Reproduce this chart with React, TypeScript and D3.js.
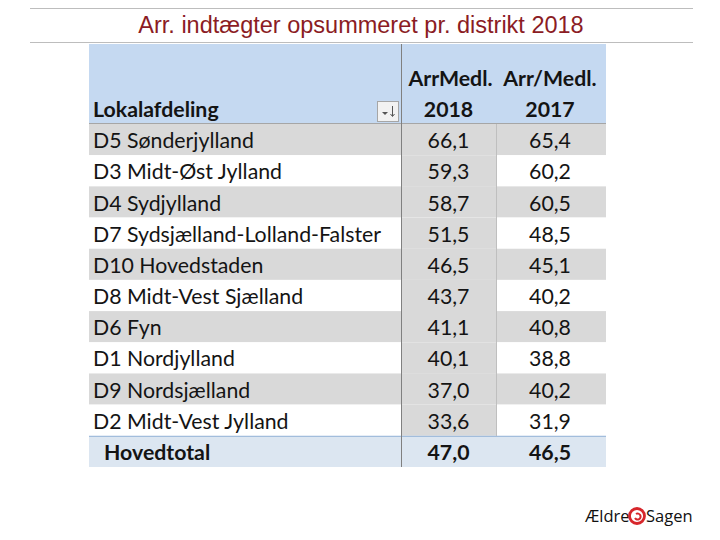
import React from "react";
import * as d3 from "d3";

const title = "Arr. indtægter opsummeret pr. distrikt 2018";
const districts = [
  "D5 Sønderjylland",
  "D3 Midt-Øst Jylland",
  "D4 Sydjylland",
  "D7 Sydsjælland-Lolland-Falster",
  "D10 Hovedstaden",
  "D8 Midt-Vest Sjælland",
  "D6 Fyn",
  "D1 Nordjylland",
  "D9 Nordsjælland",
  "D2 Midt-Vest Jylland",
];
const values2018 = [66.1, 59.3, 58.7, 51.5, 46.5, 43.7, 41.1, 40.1, 37.0, 33.6];
const values2017 = [65.4, 60.2, 60.5, 48.5, 45.1, 40.2, 40.8, 38.8, 40.2, 31.9];
const totalLabel = "Hovedtotal";
const total2018 = 47.0;
const total2017 = 46.5;
const rowHeader = "Lokalafdeling";
const colHeaders1 = ["ArrMedl.", "Arr/Medl."];
const colHeaders2 = ["2018", "2017"];

const fmt = (v: number) => d3.format(".1f")(v).replace(".", ",");

export default function App() {
  const W = 720, H = 540;
  const left = 89, right = 606, c1 = 401, c2 = 496;
  const headTop = 44, headBottom = 124;
  const rowKeys = [...districts, totalLabel];
  const y = d3.scaleBand<string>().domain(rowKeys).range([headBottom, 467]).padding(0);
  const bh = y.bandwidth();
  const font = "Lato, 'Open Sans', sans-serif";
  const fs = 21.3;
  const grey = "#D9D9D9";
  const x2018 = (c1 + c2) / 2;
  const x2017 = (c2 + right) / 2 - 1;
  const ink = "#141414";

  return (
    <svg width={W} height={H} style={{ position: "absolute", left: 0, top: 0, background: "#fff" }}>
      <rect x={0} y={0} width={W} height={H} fill="#fff" />
      <line x1={30} x2={693} y1={8.5} y2={8.5} stroke="#BDBDBD" strokeWidth={1} />
      <line x1={30} x2={693} y1={42.5} y2={42.5} stroke="#BDBDBD" strokeWidth={1} />
      <text x={361} y={33} textAnchor="middle" fill="#8B1C24" fontFamily="'Liberation Sans', Arial, sans-serif" fontSize={23.5}>
        {title}
      </text>

      {/* header */}
      <rect x={left} y={headTop} width={right - left} height={headBottom - headTop} fill="#C5D9F1" />
      <text x={93} y={117} fontFamily={font} fontWeight={700} fontSize={fs} fill={ink}>{rowHeader}</text>
      <g>
        <rect x={377.5} y={101.5} width={21} height={20} fill="#F2F2F2" stroke="#A6A6A6" />
        <path d="M382,112 h6 l-3,3 z" fill="#555" />
        <line x1={392.5} x2={392.5} y1={106} y2={116} stroke="#555" />
        <path d="M390.5,114 l2,2.5 l2,-2.5" fill="none" stroke="#555" />
      </g>
      <text x={x2018 + 2} y={86} textAnchor="middle" fontFamily={font} fontWeight={700} fontSize={fs} fill={ink}>{colHeaders1[0]}</text>
      <text x={x2017} y={86} textAnchor="middle" fontFamily={font} fontWeight={700} fontSize={fs} fill={ink}>{colHeaders1[1]}</text>
      <text x={x2018} y={117} textAnchor="middle" fontFamily={font} fontWeight={700} fontSize={fs} fill={ink}>{colHeaders2[0]}</text>
      <text x={x2017} y={117} textAnchor="middle" fontFamily={font} fontWeight={700} fontSize={fs} fill={ink}>{colHeaders2[1]}</text>

      {/* rows */}
      {districts.map((d, i) => {
        const ty = y(d)!;
        const shaded = i % 2 === 0;
        return (
          <g key={d}>
            <rect x={left} y={ty} width={right - left} height={bh} fill={shaded ? grey : "#fff"} />
            <rect x={c1} y={ty} width={c2 - c1} height={bh} fill={grey} />
            <text x={93} y={ty + bh - 7} fontFamily={font} fontSize={fs} fill={ink}>{d}</text>
            <text x={x2018} y={ty + bh - 7} textAnchor="middle" fontFamily={font} fontSize={fs} fill={ink}>{fmt(values2018[i])}</text>
            <text x={x2017} y={ty + bh - 7} textAnchor="middle" fontFamily={font} fontSize={fs} fill={ink}>{fmt(values2017[i])}</text>
          </g>
        );
      })}
      {/* total */}
      {(() => {
        const ty = y(totalLabel)!;
        return (
          <g>
            <rect x={left} y={ty} width={right - left} height={bh} fill="#DCE6F1" />
            <line x1={left} x2={right} y1={ty + 0.5} y2={ty + 0.5} stroke="#95B3D7" />
            <text x={104} y={ty + bh - 7} fontFamily={font} fontWeight={700} fontSize={fs} fill={ink}>{totalLabel}</text>
            <text x={x2018} y={ty + bh - 7} textAnchor="middle" fontFamily={font} fontWeight={700} fontSize={fs} fill={ink}>{fmt(total2018)}</text>
            <text x={x2017} y={ty + bh - 7} textAnchor="middle" fontFamily={font} fontWeight={700} fontSize={fs} fill={ink}>{fmt(total2017)}</text>
          </g>
        );
      })()}
      <line x1={left} x2={right} y1={headBottom - 0.5} y2={headBottom - 0.5} stroke="#A6A6A6" />
      <line x1={c1 + 0.5} x2={c1 + 0.5} y1={headTop} y2={467} stroke="#808080" />
      <line x1={c2 + 0.5} x2={c2 + 0.5} y1={headBottom} y2={436} stroke="#BFBFBF" />

      {/* logo */}
      <text x={585} y={522} fontFamily="'Open Sans', sans-serif" fontSize={16.5} fill="#111">Ældre</text>
      <g transform="translate(637,516)">
        <circle r={7.5} fill="none" stroke="#D7262B" strokeWidth={2.8} />
        <path d="M-1,-2 a3,3 0 1,1 -1,4" fill="none" stroke="#D7262B" strokeWidth={2} />
      </g>
      <text x={646} y={522} fontFamily="'Open Sans', sans-serif" fontSize={16.5} fill="#111">Sagen</text>
    </svg>
  );
}
